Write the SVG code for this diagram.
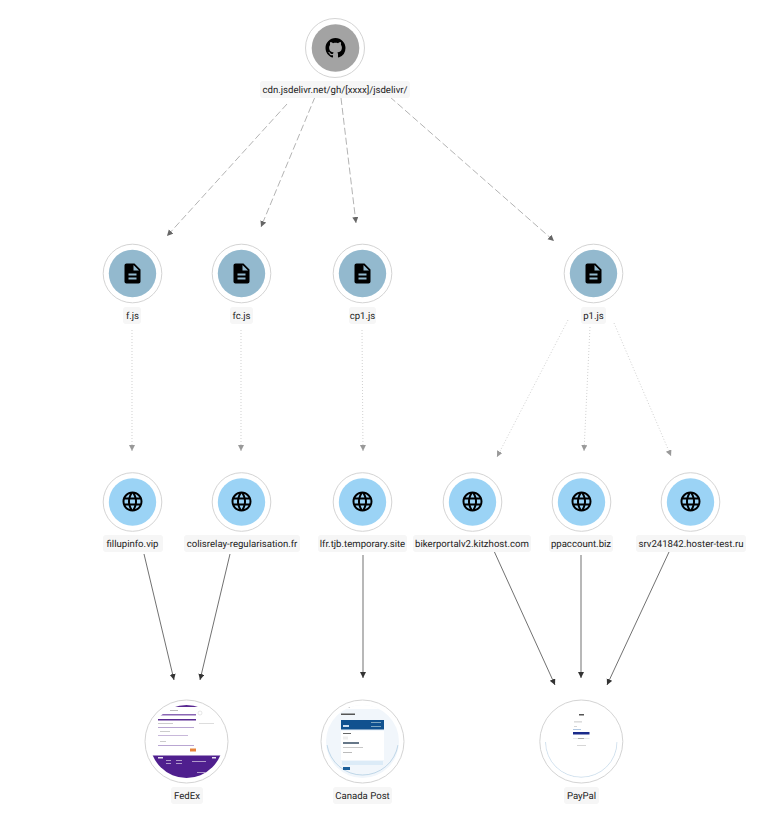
<svg xmlns="http://www.w3.org/2000/svg" width="766" height="821" viewBox="0 0 766 821">
<style>
text{font-family:Roboto,"Liberation Sans",sans-serif;font-size:9.6px;fill:#222;text-anchor:middle;text-rendering:geometricPrecision}
.pill{fill:#f6f6f6}
.ring{fill:#fff;stroke:#d4d4d4;stroke-width:1}
.f{fill:#93b9ce}.d{fill:#9bd3f5}
.dash{stroke:#666;stroke-width:.5;stroke-dasharray:7 3;fill:none;marker-end:url(#a1)}
.dot{stroke:#bbb;stroke-width:.7;stroke-dasharray:1 2;fill:none;marker-end:url(#a2)}
.sol{stroke:#333;stroke-width:.7;fill:none;marker-end:url(#a3)}
</style>
<defs>
<marker id="a1" markerUnits="userSpaceOnUse" markerWidth="8" markerHeight="8" refX="6" refY="3" orient="auto"><path d="M0 0L6 3L0 6z" fill="#666"/></marker>
<marker id="a2" markerUnits="userSpaceOnUse" markerWidth="8" markerHeight="8" refX="6" refY="3" orient="auto"><path d="M0 0L6 3L0 6z" fill="#999"/></marker>
<marker id="a3" markerUnits="userSpaceOnUse" markerWidth="8" markerHeight="8" refX="6" refY="3" orient="auto"><path d="M0 0L6 3L0 6z" fill="#333"/></marker>
<path id="file" d="M14 2H6c-1.1 0-1.99.9-1.99 2L4 20c0 1.1.89 2 1.99 2H18c1.1 0 2-.9 2-2V8l-6-6zm2 16H8v-2h8v2zm0-4H8v-2h8v2zm-3-5V3.5L18.5 9H13z" fill="#000"/>
<path id="globe" d="M11.99 2C6.47 2 2 6.48 2 12s4.47 10 9.99 10C17.52 22 22 17.52 22 12S17.52 2 11.99 2zm6.93 6h-2.95c-.32-1.25-.78-2.45-1.38-3.56 1.84.63 3.37 1.91 4.33 3.56zM12 4.04c.83 1.2 1.48 2.53 1.91 3.96h-3.82c.43-1.43 1.08-2.76 1.91-3.96zM4.26 14C4.1 13.36 4 12.69 4 12s.1-1.36.26-2h3.38c-.08.66-.14 1.32-.14 2 0 .68.06 1.34.14 2H4.26zm.82 2h2.95c.32 1.25.78 2.45 1.38 3.56-1.84-.63-3.37-1.9-4.33-3.56zm2.95-8H5.08c.96-1.66 2.49-2.93 4.33-3.56C8.81 5.55 8.35 6.75 8.03 8zM12 19.96c-.83-1.2-1.48-2.53-1.91-3.96h3.82c-.43 1.43-1.08 2.76-1.91 3.96zM14.34 14H9.66c-.09-.66-.16-1.32-.16-2 0-.68.07-1.35.16-2h4.68c.09.65.16 1.32.16 2 0 .68-.07 1.34-.16 2zm.25 5.56c.6-1.11 1.06-2.31 1.38-3.56h2.95c-.96 1.65-2.49 2.93-4.33 3.56zM16.36 14c.08-.66.14-1.32.14-2 0-.68-.06-1.34-.14-2h3.38c.16.64.26 1.31.26 2s-.1 1.36-.26 2h-3.38z" fill="#000"/>
<clipPath id="c1"><circle cx="186.500" cy="741.500" r="36.500"/></clipPath>
<clipPath id="c2"><circle cx="362.500" cy="741.500" r="36.500"/></clipPath>
<clipPath id="c3"><circle cx="581.300" cy="741.500" r="36.500"/></clipPath>
</defs>
<rect width="766" height="821" fill="#fff"/>
<g id="connectors">
<path class="dash" d="M287 104L167 236"/>
<path class="dash" d="M315 97L261 227"/>
<path class="dash" d="M341 98L356 223"/>
<path class="dash" d="M390 97L554 241"/>
<path class="dot" d="M132 330L132 451"/>
<path class="dot" d="M241 330L241 451"/>
<path class="dot" d="M362 330L363 451"/>
<path class="dot" d="M568 320L497 457"/>
<path class="dot" d="M590 327L584 451"/>
<path class="dot" d="M614 323L671 456"/>
<path class="sol" d="M144 554L174 680"/>
<path class="sol" d="M230 554L200 680"/>
<path class="sol" d="M363 555L363 678"/>
<path class="sol" d="M494 551L555 685"/>
<path class="sol" d="M581 555L581 678"/>
<path class="sol" d="M669 552L607 685"/>
</g>
<g id="github">
<circle class="ring" cx="335" cy="48" r="29.500"/><circle cx="335.500" cy="48" r="23.800" fill="#a3a3a3"/>
<path transform="translate(325.500 38) scale(1.25)" fill="#000" d="M8 0C3.58 0 0 3.58 0 8c0 3.54 2.29 6.53 5.47 7.59.4.07.55-.17.55-.38 0-.19-.01-.82-.01-1.49-2.01.37-2.53-.49-2.69-.94-.09-.23-.48-.94-.82-1.13-.28-.15-.68-.52-.01-.53.63-.01 1.08.58 1.23.82.72 1.21 1.87.87 2.33.66.07-.52.28-.87.51-1.07-1.78-.2-3.64-.89-3.64-3.95 0-.87.31-1.59.82-2.15-.08-.2-.36-1.02.08-2.12 0 0 .67-.21 2.2.82.64-.18 1.32-.27 2-.27.68 0 1.36.09 2 .27 1.53-1.04 2.2-.82 2.2-.82.44 1.1.16 1.92.08 2.12.51.56.82 1.27.82 2.15 0 3.07-1.87 3.75-3.65 3.95.29.25.54.73.54 1.48 0 1.07-.01 1.93-.01 2.2 0 .21.15.46.55.38A8.013 8.013 0 0016 8c0-4.42-3.58-8-8-8z"/>
<rect class="pill" x="260" y="81" width="150" height="17" rx="3"/><text x="335" y="93">cdn.jsdelivr.net/gh/[xxxx]/jsdelivr/</text>
</g>
<g id="file-f"><circle class="ring" cx="132.500" cy="273.500" r="29.300"/><circle class="f" cx="132.500" cy="273.500" r="23.700"/><use href="#file" transform="translate(120.500 261.500)"/><rect class="pill" x="123" y="307" width="18" height="17" rx="3"/><text x="132.500" y="319">f.js</text></g>
<g id="file-fc"><circle class="ring" cx="241.500" cy="273.500" r="29.300"/><circle class="f" cx="241.500" cy="273.500" r="23.700"/><use href="#file" transform="translate(229.500 261.500)"/><rect class="pill" x="230" y="307" width="23" height="17" rx="3"/><text x="241.500" y="319">fc.js</text></g>
<g id="file-cp1"><circle class="ring" cx="362.500" cy="273.500" r="29.300"/><circle class="f" cx="362.500" cy="273.500" r="23.700"/><use href="#file" transform="translate(350.500 261.500)"/><rect class="pill" x="349" y="307" width="27" height="17" rx="3"/><text x="362.500" y="319">cp1.js</text></g>
<g id="file-p1"><circle class="ring" cx="593.500" cy="273.500" r="29.300"/><circle class="f" cx="593.500" cy="273.500" r="23.700"/><use href="#file" transform="translate(581.500 261.500)"/><rect class="pill" x="581" y="307" width="25" height="17" rx="3"/><text x="593.500" y="319">p1.js</text></g>
<g id="dom-fillupinfo"><circle class="ring" cx="132.500" cy="502" r="29.300"/><circle class="d" cx="132.500" cy="502" r="23.700"/><use href="#globe" transform="translate(120.500 489.500)"/><rect class="pill" x="103" y="535" width="60" height="17" rx="3"/><text x="132.500" y="547">fillupinfo.vip</text></g>
<g id="dom-colisrelay"><circle class="ring" cx="241.500" cy="502" r="29.300"/><circle class="d" cx="241.500" cy="502" r="23.700"/><use href="#globe" transform="translate(229.500 489.500)"/><rect class="pill" x="184" y="535" width="116" height="17" rx="3"/><text x="242" y="547">colisrelay-regularisation.fr</text></g>
<g id="dom-lfr"><circle class="ring" cx="362.500" cy="502" r="29.300"/><circle class="d" cx="362.500" cy="502" r="23.700"/><use href="#globe" transform="translate(350.500 489.500)"/><rect class="pill" x="318" y="535" width="89" height="17" rx="3"/><text x="362.500" y="547">lfr.tjb.temporary.site</text></g>
<g id="dom-bikerportal"><circle class="ring" cx="472.500" cy="502" r="29.300"/><circle class="d" cx="472.500" cy="502" r="23.700"/><use href="#globe" transform="translate(460.500 489.500)"/><rect class="pill" x="413" y="535" width="118" height="17" rx="3"/><text x="472" y="547">bikerportalv2.kitzhost.com</text></g>
<g id="dom-ppaccount"><circle class="ring" cx="581.500" cy="502" r="29.300"/><circle class="d" cx="581.500" cy="502" r="23.700"/><use href="#globe" transform="translate(569.500 489.500)"/><rect class="pill" x="549" y="535" width="64" height="17" rx="3"/><text x="581" y="547">ppaccount.biz</text></g>
<g id="dom-srv"><circle class="ring" cx="690.500" cy="502" r="29.300"/><circle class="d" cx="690.500" cy="502" r="23.700"/><use href="#globe" transform="translate(678.500 489.500)"/><rect class="pill" x="636" y="535" width="110" height="17" rx="3"/><text x="691" y="547">srv241842.hoster-test.ru</text></g>
<g id="thumb-fedex">
<circle class="ring" cx="186.500" cy="741.500" r="41.500"/>
<g clip-path="url(#c1)">
<rect x="150" y="705" width="74" height="2" fill="#5a2a92"/>
<rect x="170" y="710" width="8" height="1" fill="#bbb"/>
<rect x="158" y="714" width="38" height="1.500" fill="#8a66b4"/>
<rect x="158" y="719" width="38" height="1.500" fill="#5a2a92"/>
<rect x="158" y="723" width="15" height="1" fill="#ccc"/>
<rect x="158" y="727" width="36" height="1" fill="#b9a6d2"/>
<rect x="160" y="731" width="10" height="1" fill="#ccc"/>
<rect x="158" y="735" width="30" height="1" fill="#c8b8da"/>
<rect x="160" y="741" width="6" height="1" fill="#ccc"/>
<rect x="158" y="745" width="36" height="1" fill="#b9a6d2"/>
<rect x="190" y="748.500" width="6" height="3" fill="#e8843c"/>
<rect x="199" y="723" width="15" height="1" fill="#ddd"/>
<circle cx="200" cy="713" r="2" fill="none" stroke="#ccc" stroke-width=".5"/>
<rect x="145" y="755.500" width="84" height="30" fill="#4f1f8e"/>
<rect x="158" y="757" width="5" height="1.500" fill="#e8e0f0"/>
<rect x="166" y="760" width="5" height=".8" fill="#c8b8da"/>
<rect x="166" y="763" width="5" height=".8" fill="#c8b8da"/>
<rect x="176" y="760" width="6" height=".8" fill="#c8b8da"/>
<rect x="176" y="763" width="6" height=".8" fill="#c8b8da"/>
<rect x="192" y="761" width="14" height=".8" fill="#c8b8da"/>
<rect x="197" y="772" width="18" height=".8" fill="#c8b8da"/>
<rect x="212" y="757" width="4" height="1.500" fill="#e8e0f0"/>
</g></g>
<g id="thumb-canadapost">
<circle class="ring" cx="362.500" cy="741.500" r="41.500"/>
<g clip-path="url(#c2)">
<rect x="322" y="700" width="82" height="84" fill="#f1f6fb"/>
<rect x="322" y="700" width="82" height="9" fill="#fff"/>
<path d="M327 745A36 36 0 0 0 398 745" fill="none" stroke="#a9c8e0" stroke-width=".7"/>
<rect x="342" y="707" width="8" height=".8" fill="#999"/>
<rect x="341" y="713.500" width="14" height="1.500" fill="#555"/>
<rect x="341" y="720" width="43" height="9.500" fill="#10518f"/>
<rect x="343" y="725" width="6" height="2" fill="#cde"/>
<rect x="371" y="722" width="10" height=".8" fill="#9bc"/>
<rect x="371" y="726" width="10" height=".8" fill="#9bc"/>
<rect x="341" y="731" width="43" height="29" fill="#fff"/>
<rect x="343" y="733" width="8" height="1" fill="#666"/>
<rect x="343" y="736.500" width="5" height="3" fill="#eee"/>
<rect x="343" y="742" width="16" height="2" fill="#678"/>
<rect x="343" y="747" width="20" height=".8" fill="#bbb"/>
<rect x="343" y="752" width="9" height="1" fill="#bbb"/>
<rect x="342" y="761" width="41" height="4" fill="#dcebf7"/>
<rect x="343" y="767" width="7" height="3" fill="#1b5e99"/>
</g></g>
<g id="thumb-paypal">
<circle class="ring" cx="581.300" cy="741.500" r="41.500"/>
<g clip-path="url(#c3)">
<path d="M545.500 742A35.500 35 0 0 0 617 742" fill="none" stroke="#b2cde3" stroke-width=".6"/>
<rect x="579" y="714" width="5" height="1.500" fill="#555"/>
<rect x="574" y="721.500" width="8" height=".8" fill="#bbb"/>
<rect x="574" y="726" width="3" height=".8" fill="#ccc"/>
<rect x="573" y="729" width="8" height=".8" fill="#9bb8da"/>
<rect x="573" y="732" width="16.500" height="2.500" fill="#1a2a8a"/>
<rect x="573" y="738" width="16.500" height=".6" fill="#ddd"/>
<rect x="578" y="738" width="6" height="1" fill="#aaa"/>
<rect x="577" y="745" width="9" height=".8" fill="#ccc"/>
</g></g>
<g id="label-fedex"><rect class="pill" x="171" y="787" width="32" height="17" rx="3"/><text x="187" y="799">FedEx</text></g>
<g id="label-canadapost"><rect class="pill" x="333" y="787" width="59" height="17" rx="3"/><text x="362.500" y="799">Canada Post</text></g>
<g id="label-paypal"><rect class="pill" x="564" y="787" width="35" height="17" rx="3"/><text x="581.500" y="799">PayPal</text></g>
</svg>
